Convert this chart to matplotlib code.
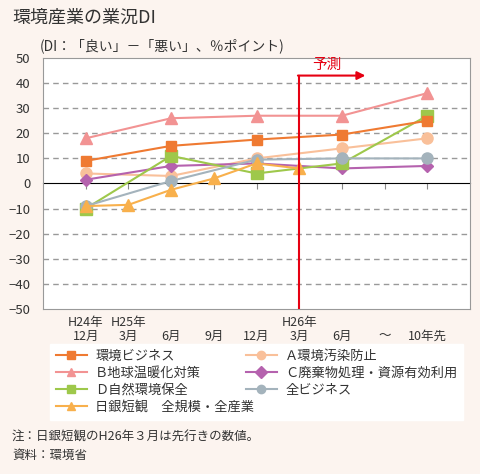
import matplotlib.pyplot as plt
import numpy as np

plt.rcParams['font.family'] = ['Noto Sans CJK JP', 'DejaVu Sans']

# --- data -------------------------------------------------------------
x_labels = ['H24年\n12月', 'H25年\n3月', '\n6月', '\n9月', '\n12月',
            'H26年\n3月', '\n6月', '\n～', '\n10年先']
survey_pos = [0, 2, 4, 6, 8]
tankan_pos = [0, 1, 2, 3, 4, 5]

kankyo_biz = [9, 15, 17.5, 19.5, 25]
a_osen = [4, 3, 10, 14, 18]
b_ondanka = [18, 26, 27, 27, 36]
c_haikibutsu = [1.5, 7, 8, 6, 7]
d_shizen = [-10, 11, 4, 8, 27]
zen_biz = [-9, 1, 9.5, 10, 10]
tankan = [-9, -8.5, -2.5, 2, 8, 6]

bg = '#fcf4ef'
fig = plt.figure(figsize=(4.81, 4.74), dpi=100, facecolor=bg)
ax = fig.add_axes([43 / 481, 1 - 309 / 474, 427 / 481, 251 / 474])
ax.set_facecolor('white')

lw = 1.5
ms = 7
h_biz, = ax.plot(survey_pos, kankyo_biz, color='#ef7a32', marker='s', lw=lw, ms=ms,
                 label='環境ビジネス', zorder=5)
h_b, = ax.plot(survey_pos, b_ondanka, color='#f29393', marker='^', lw=lw, ms=ms + 1,
               label='Ｂ地球温暖化対策', zorder=4)
h_d, = ax.plot(survey_pos, d_shizen, color='#9ec84b', marker='s', lw=lw, ms=ms + 1,
               label='Ｄ自然環境保全', zorder=4)
h_t, = ax.plot(tankan_pos, tankan, color='#f8b04c', marker='^', lw=lw, ms=ms + 1,
               label='日銀短観　全規模・全産業', zorder=6)
h_a, = ax.plot(survey_pos, a_osen, color='#f9c09a', marker='o', lw=lw, ms=ms + 1,
               label='Ａ環境汚染防止', zorder=3)
h_c, = ax.plot(survey_pos, c_haikibutsu, color='#b562ae', marker='D', lw=lw, ms=ms - 1,
               label='Ｃ廃棄物処理・資源有効利用', zorder=3)
h_z, = ax.plot(survey_pos, zen_biz, color='#a4b3bc', marker='o', lw=lw, ms=ms + 1,
               label='全ビジネス', zorder=4)

ax.set_xlim(-1, 9)
ax.set_ylim(-50, 50)
ax.set_yticks(np.arange(-50, 51, 10))
ax.tick_params(axis='y', length=0, labelsize=9.5, pad=9, labelcolor='#333333')
ax.set_xticks(range(len(x_labels)))
ax.set_xticklabels(x_labels, fontsize=9, linespacing=1.05, color='#333333')
ax.tick_params(axis='x', length=0, pad=5)
for v in range(-40, 50, 10):
    if v != 0:
        ax.axhline(v, color='#999999', lw=1, ls=(0, (4, 3)), zorder=1)
for s in ax.spines.values():
    s.set_color('#999999')

# zero line with small upward ticks
sec = ax.secondary_xaxis(0.5)
sec.set_xticks(range(len(x_labels)))
sec.set_xticklabels([])
sec.tick_params(direction='in', length=4, color='#888888')
sec.spines['bottom'].set_color('#888888')

# forecast marker
ax.plot([5, 5], [-50, 43], color='#e60012', lw=1.5, zorder=7)
ax.annotate('', xy=(6.55, 43), xytext=(4.97, 43),
            arrowprops=dict(arrowstyle='-|>', color='#e60012', lw=1.5,
                            mutation_scale=12, shrinkA=0, shrinkB=0), zorder=7)
ax.text(5.65, 44.5, '予測', color='#e60012', fontsize=10.5, ha='center', va='bottom')

fig.text(12 / 481, 1 - 18 / 474, '環境産業の業況DI', fontsize=13, va='center', color='#333333')
fig.text(40 / 481, 1 - 46 / 474, '(DI：「良い」－「悪い」、％ポイント)', fontsize=10, va='center',
         color='#333333')

handles = [h_biz, h_b, h_d, h_t, h_a, h_c, h_z]
leg = fig.legend(handles, [h.get_label() for h in handles], ncol=2,
                 loc='upper left', bbox_to_anchor=(43 / 481, 1 - 342 / 474, 427 / 481, 0.01),
                 mode='expand', fontsize=9.5, frameon=True, fancybox=False,
                 facecolor='white', edgecolor='white', framealpha=1,
                 handlelength=2.4, labelspacing=0.3, borderpad=0.45, handletextpad=0.6)
for t in leg.get_texts():
    t.set_color('#333333')
for h in leg.legend_handles:
    h.set_markersize(6)

fig.text(12 / 481, 1 - 437 / 474, '注：日銀短観のH26年３月は先行きの数値。', fontsize=9, va='center',
         color='#333333')
fig.text(12 / 481, 1 - 455 / 474, '資料：環境省', fontsize=9, va='center', color='#333333')

fig.savefig('out.png', dpi=100, facecolor=bg)
